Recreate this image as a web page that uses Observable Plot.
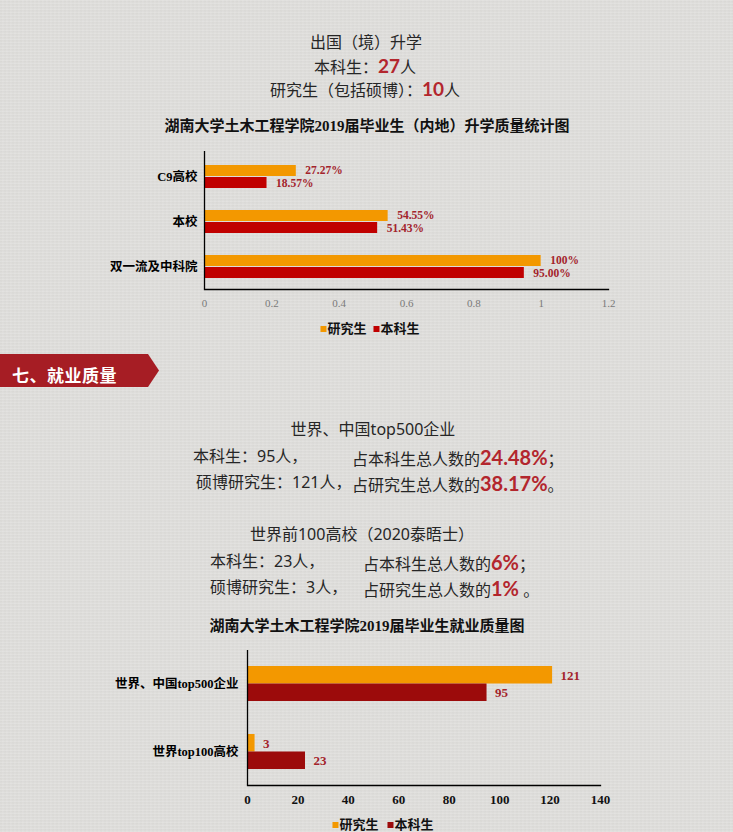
<!DOCTYPE html>
<html><head><meta charset="utf-8">
<script src="https://cdn.jsdelivr.net/npm/d3@7"></script>
<script src="https://cdn.jsdelivr.net/npm/@observablehq/plot@0.6"></script>
<style>
html,body{margin:0;padding:0;background:#dfdedb;}
#page{position:relative;width:733px;height:832px;overflow:hidden;font-family:"Noto Sans","Noto Sans CJK SC",sans-serif;color:#262626;
 background-color:#dfdedb;
 background-image:repeating-linear-gradient(0deg,rgba(255,255,255,0.10) 0px,rgba(255,255,255,0.10) 1px,rgba(0,0,0,0.025) 2px,rgba(0,0,0,0) 3px),
 repeating-linear-gradient(90deg,rgba(255,255,255,0.10) 0px,rgba(0,0,0,0.03) 1px,rgba(255,255,255,0.06) 2px,rgba(0,0,0,0) 4px);}
.t{position:absolute;white-space:pre;line-height:1;}
.c{transform:translateX(-50%);}
.n{font-size:16px;}
.r{color:#b3262d;font-weight:bold;font-family:Lato,"Noto Sans",sans-serif;line-height:1;}
.title{font-family:"Liberation Serif","Noto Sans CJK SC",serif;font-weight:bold;font-size:15px;color:#111;}
.leg{font-family:"Liberation Serif","Noto Sans CJK SC",serif;font-weight:bold;font-size:13px;color:#111;display:flex;align-items:center;}
.sw{display:inline-block;width:6px;height:6px;margin-right:1px;}
.plot{position:absolute;left:0;}
#banner{position:absolute;left:0;top:354px;width:159px;height:33px;background:#a61d24;
 clip-path:polygon(0 0,148px 0,159px 50%,148px 100%,0 100%);}
#bannerText{position:absolute;left:12px;top:366px;color:#fff;font-weight:bold;font-size:17px;line-height:1;font-family:"Noto Sans CJK SC",serif;letter-spacing:0.5px;}
</style>
</head><body>
<div id="page">
  <div class="t c n" style="left:366px;top:34px;">出国（境）升学</div>
  <div class="t c n" style="left:365px;top:56px;">本科生：<span class="r" style="font-size:19px;">27</span>人</div>
  <div class="t c n" style="left:365px;top:79px;">研究生（包括硕博）：<span class="r" style="font-size:19px;">10</span>人</div>
  <div class="t c title" style="left:367px;top:119px;">湖南大学土木工程学院2019届毕业生（内地）升学质量统计图</div>
  <div id="plot1" class="plot" style="top:140px;"></div>
  <div id="leg1" class="t c leg" style="left:370px;top:322px;"></div>

  <div id="banner"></div>
  <div id="bannerText">七、就业质量</div>

  <div class="t c n" style="left:373px;top:421px;">世界、中国top500企业</div>
  <div class="t n" style="left:193px;top:448px;">本科生：95人，</div>
  <div class="t n" style="left:352px;top:447px;">占本科生总人数的<span class="r" style="font-size:20px;">24.48%</span>；</div>
  <div class="t n" style="left:196px;top:474px;">硕博研究生：121人，</div>
  <div class="t n" style="left:352px;top:473px;">占研究生总人数的<span class="r" style="font-size:20px;">38.17%</span>。</div>

  <div class="t c n" style="left:362px;top:526px;">世界前100高校（2020泰晤士）</div>
  <div class="t n" style="left:210px;top:553px;">本科生：23人，</div>
  <div class="t n" style="left:363px;top:552px;">占本科生总人数的<span class="r" style="font-size:20px;">6%</span>；</div>
  <div class="t n" style="left:210px;top:579px;">硕博研究生：3人，</div>
  <div class="t n" style="left:363px;top:578px;">占研究生总人数的<span class="r" style="font-size:20px;">1%</span> 。</div>

  <div class="t c title" style="left:367px;top:619px;">湖南大学土木工程学院2019届毕业生就业质量图</div>
  <div id="plot2" class="plot" style="top:640px;"></div>
  <div id="leg2" class="t c leg" style="left:383px;top:818px;"></div>
</div>
<script>
// ---- data ----
const seriesNames = ["研究生", "本科生"];

const eduCategories = ["C9高校", "本校", "双一流及中科院"];
const eduGrad = [0.2727, 0.5455, 1.0];
const eduGradLabels = ["27.27%", "54.55%", "100%"];
const eduUnder = [0.1857, 0.5143, 0.95];
const eduUnderLabels = ["18.57%", "51.43%", "95.00%"];
const eduTicks = [0, 0.2, 0.4, 0.6, 0.8, 1, 1.2];

const jobCategories = ["世界、中国top500企业", "世界top100高校"];
const jobGrad = [121, 3];
const jobUnder = [95, 23];
const jobTicks = [0, 20, 40, 60, 80, 100, 120, 140];

// ---- styles ----
const orange = "#f39800";
const red1 = "#c00000";
const red2 = "#9c0b0b";
const labelColor = "#a3232b";
const serif = '"Liberation Serif","Noto Sans CJK SC",serif';

const eduRows = eduCategories.map((c, i) => ({cat: c, grad: eduGrad[i], under: eduUnder[i], gl: eduGradLabels[i], ul: eduUnderLabels[i]}));
const jobRows = jobCategories.map((c, i) => ({cat: c, grad: jobGrad[i], under: jobUnder[i], gl: String(jobGrad[i]), ul: String(jobUnder[i])}));

const p1 = Plot.plot({
  width: 733, height: 175,
  marginLeft: 204, marginRight: 125, marginTop: 11, marginBottom: 26,
  style: {background: "transparent", fontFamily: serif, overflow: "visible"},
  x: {domain: [0, 1.2], ticks: eduTicks, tickFormat: d => String(d)},
  y: {domain: eduCategories, paddingInner: 0.48, paddingOuter: 0.25, align: 0.56},
  marks: [
    Plot.barX(eduRows, {y: "cat", x: "grad", fill: orange, insetBottom: 12}),
    Plot.barX(eduRows, {y: "cat", x: "under", fill: red1, insetTop: 12}),
    Plot.text(eduRows, {y: "cat", x: "grad", text: "gl", dx: 9, dy: -6.8, textAnchor: "start", fill: labelColor, fontWeight: "bold", fontSize: 11.5}),
    Plot.text(eduRows, {y: "cat", x: "under", text: "ul", dx: 9, dy: 6.8, textAnchor: "start", fill: labelColor, fontWeight: "bold", fontSize: 11.5}),
    Plot.ruleX([0], {stroke: "#000", strokeWidth: 1.3}),
    Plot.frame({anchor: "bottom", stroke: "#000", strokeWidth: 1.3}),
    Plot.axisX({ticks: eduTicks, tickFormat: d => String(d), tickSize: 0, tickPadding: 10, fontSize: 11, color: "#7a7a7a", label: null}),
    Plot.axisY({tickSize: 0, tickPadding: 7, fontSize: 12.5, fontWeight: "bold", color: "#000", label: null})
  ]
});
document.getElementById("plot1").appendChild(p1);

const p2 = Plot.plot({
  width: 733, height: 175,
  marginLeft: 247, marginRight: 133, marginTop: 10, marginBottom: 30,
  style: {background: "transparent", fontFamily: serif, overflow: "visible"},
  x: {domain: [0, 140], ticks: jobTicks},
  y: {domain: jobCategories, paddingInner: 0.49, paddingOuter: 0.23},
  marks: [
    Plot.barX(jobRows, {y: "cat", x: "grad", fill: orange, insetBottom: 17.5}),
    Plot.barX(jobRows, {y: "cat", x: "under", fill: red2, insetTop: 17.5}),
    Plot.text(jobRows, {y: "cat", x: "grad", text: "gl", dx: 8, dy: -8.5, textAnchor: "start", fill: labelColor, fontWeight: "bold", fontSize: 13}),
    Plot.text(jobRows, {y: "cat", x: "under", text: "ul", dx: 8, dy: 8.5, textAnchor: "start", fill: labelColor, fontWeight: "bold", fontSize: 13}),
    Plot.ruleX([0], {stroke: "#000", strokeWidth: 1.3}),
    Plot.frame({anchor: "bottom", stroke: "#000", strokeWidth: 1.3}),
    Plot.axisX({ticks: jobTicks, tickSize: 0, tickPadding: 9, fontSize: 13, fontWeight: "bold", color: "#111", label: null}),
    Plot.axisY({tickSize: 0, tickPadding: 9, fontSize: 12.5, fontWeight: "bold", color: "#000", label: null})
  ]
});
document.getElementById("plot2").appendChild(p2);

function legend(id, colors, gap) {
  const el = document.getElementById(id);
  seriesNames.forEach((name, i) => {
    const sw = document.createElement("span");
    sw.className = "sw"; sw.style.background = colors[i];
    if (i > 0) sw.style.marginLeft = gap + "px";
    el.appendChild(sw);
    const tx = document.createElement("span");
    tx.textContent = name;
    el.appendChild(tx);
  });
}
legend("leg1", [orange, red1], 7);
legend("leg2", [orange, red2], 9);
</script>
</body></html>
